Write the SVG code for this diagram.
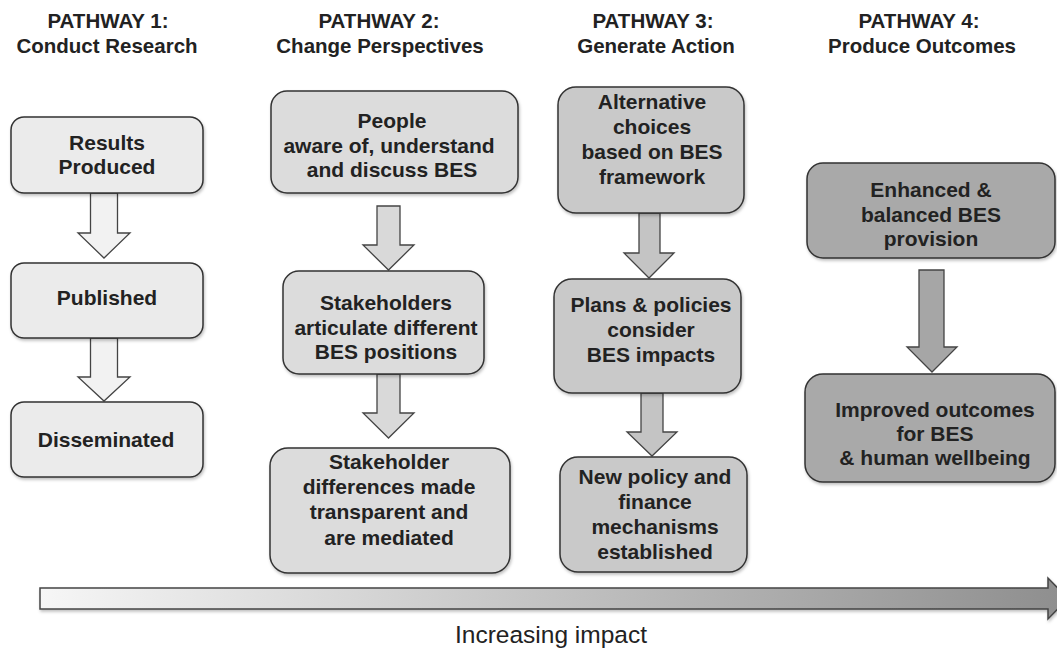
<svg xmlns="http://www.w3.org/2000/svg" width="1057" height="654" viewBox="0 0 1057 654">
<defs>
<style>
.t{font-family:"Liberation Sans",Arial,sans-serif;font-weight:bold;font-size:21px;fill:#222;text-anchor:middle}
.h{font-family:"Liberation Sans",Arial,sans-serif;font-weight:bold;font-size:20.5px;fill:#222;text-anchor:middle}
.box{stroke:#333;stroke-width:1.5}
.arr{stroke:#444;stroke-width:1.3;stroke-linejoin:miter}
.p1{fill:#ebebeb}.p2{fill:#dcdcdc}.p3{fill:#c9c9c9}.p4{fill:#a9a9a9}
.a1{fill:#f2f2f2}.a2{fill:#d9d9d9}.a3{fill:#c4c4c4}.a4{fill:#a6a6a6}
</style>
<filter id="sh" x="-10%" y="-10%" width="120%" height="130%">
<feDropShadow dx="1" dy="2" stdDeviation="1.5" flood-color="#000" flood-opacity="0.25"/>
</filter>
<linearGradient id="bar" x1="0" y1="0" x2="1" y2="0">
<stop offset="0" stop-color="#f6f6f6"/>
<stop offset="1" stop-color="#8e8e8e"/>
</linearGradient>
</defs>
<rect width="1057" height="654" fill="#fff"/>

<g id="titles">
<text class="h" x="108" y="28">PATHWAY 1:</text>
<text class="h" x="107" y="53">Conduct Research</text>
<text class="h" x="379" y="28">PATHWAY 2:</text>
<text class="h" x="380" y="53">Change Perspectives</text>
<text class="h" x="653" y="28">PATHWAY 3:</text>
<text class="h" x="656" y="53">Generate Action</text>
<text class="h" x="919" y="28">PATHWAY 4:</text>
<text class="h" x="922" y="53">Produce Outcomes</text>
</g>

<g id="connectors">
<polygon class="arr a1" points="90.5,193 117.5,193 117.5,233 130,233 104,258 78,233 90.5,233"/>
<polygon class="arr a1" points="90.5,338 117.5,338 117.5,377 130,377 104,401 78,377 90.5,377"/>
<polygon class="arr a2" points="377,206 400,206 400,245 414,245 388.5,270 363,245 377,245"/>
<polygon class="arr a2" points="377,374 400,374 400,413 414,413 388.5,438 363,413 377,413"/>
<polygon class="arr a3" points="639,213 660,213 660,253 674,253 649,278 624,253 639,253"/>
<polygon class="arr a3" points="641,393 663,393 663,432 677,432 652,456 627,432 641,432"/>
<polygon class="arr a4" points="919,270 944,270 944,347 957,347 932,372 907,347 919,347"/>
</g>

<g id="n-results"><rect class="box p1" filter="url(#sh)" x="11" y="117" width="192" height="76" rx="13"/>
<text class="t" x="107" y="150">Results</text><text class="t" x="107" y="174">Produced</text></g>
<g id="n-published"><rect class="box p1" filter="url(#sh)" x="11" y="263" width="192" height="75" rx="13"/>
<text class="t" x="107" y="305">Published</text></g>
<g id="n-disseminated"><rect class="box p1" filter="url(#sh)" x="11" y="402" width="192" height="75" rx="13"/>
<text class="t" x="106" y="447">Disseminated</text></g>

<g id="n-people"><rect class="box p2" filter="url(#sh)" x="271" y="91" width="247" height="102" rx="16"/>
<text class="t" x="392" y="128">People</text><text class="t" x="389" y="153">aware of, understand</text><text class="t" x="392" y="177">and discuss BES</text></g>
<g id="n-stakeholders"><rect class="box p2" filter="url(#sh)" x="283" y="271" width="201" height="103" rx="16"/>
<text class="t" x="386" y="310">Stakeholders</text><text class="t" x="386" y="335">articulate different</text><text class="t" x="386" y="359">BES positions</text></g>
<g id="n-differences"><rect class="box p2" filter="url(#sh)" x="270" y="448" width="240" height="125" rx="18"/>
<text class="t" x="389" y="469">Stakeholder</text><text class="t" x="389" y="494">differences made</text><text class="t" x="389" y="519">transparent and</text><text class="t" x="389" y="545">are mediated</text></g>

<g id="n-alternative"><rect class="box p3" filter="url(#sh)" x="558" y="87" width="186" height="126" rx="18"/>
<text class="t" x="652" y="109">Alternative</text><text class="t" x="652" y="134">choices</text><text class="t" x="652" y="159">based on BES</text><text class="t" x="652" y="184">framework</text></g>
<g id="n-plans"><rect class="box p3" filter="url(#sh)" x="554" y="279" width="187" height="114" rx="18"/>
<text class="t" x="651" y="312">Plans &amp; policies</text><text class="t" x="651" y="337">consider</text><text class="t" x="651" y="362">BES impacts</text></g>
<g id="n-newpolicy"><rect class="box p3" filter="url(#sh)" x="560" y="457" width="187" height="115" rx="18"/>
<text class="t" x="655" y="484">New policy and</text><text class="t" x="655" y="509">finance</text><text class="t" x="655" y="534">mechanisms</text><text class="t" x="655" y="559">established</text></g>

<g id="n-enhanced"><rect class="box p4" filter="url(#sh)" x="807" y="163" width="248" height="95" rx="16"/>
<text class="t" x="931" y="197">Enhanced &amp;</text><text class="t" x="931" y="222">balanced BES</text><text class="t" x="931" y="246">provision</text></g>
<g id="n-improved"><rect class="box p4" filter="url(#sh)" x="805" y="374" width="250" height="108" rx="18"/>
<text class="t" x="935" y="417">Improved outcomes</text><text class="t" x="935" y="441">for BES</text><text class="t" x="935" y="465">&amp; human wellbeing</text></g>

<g id="impact">
<polygon points="40,588 1048,588 1048,578 1068,598.5 1048,619 1048,609 40,609" fill="url(#bar)" stroke="#444" stroke-width="1.5" filter="url(#sh)"/>
<text x="551" y="643" font-family="'Liberation Sans',Arial,sans-serif" font-size="24.5" fill="#222" text-anchor="middle">Increasing impact</text>
</g>
</svg>
